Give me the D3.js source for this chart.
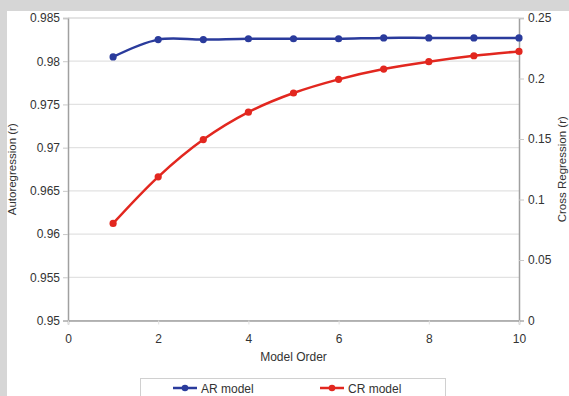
<!DOCTYPE html>
<html>
<head>
<meta charset="utf-8">
<script src="https://cdn.jsdelivr.net/npm/d3@7"></script>
<style>
  html, body { margin: 0; padding: 0; background: #d6d6d6; }
  svg { display: block; font-family: "Liberation Sans", Arial, sans-serif; }
</style>
</head>
<body>
<svg id="chart" width="569" height="396"></svg>
<script>
// Model orders on the x axis
const orders = [1, 2, 3, 4, 5, 6, 7, 8, 9, 10];
// Autoregression correlation (left axis)
const arValues = [0.9805, 0.9825, 0.9825, 0.9826, 0.9826, 0.9826, 0.9827, 0.9827, 0.9827, 0.9827];
// Cross regression correlation (right axis)
const crValues = [0.0802, 0.1187, 0.1495, 0.1722, 0.1880, 0.1993, 0.2078, 0.2139, 0.2188, 0.2224];
// Tick values
const xTicks = [0, 2, 4, 6, 8, 10];
const leftTicks = [0.95, 0.955, 0.96, 0.965, 0.97, 0.975, 0.98, 0.985];
const rightTicks = [0, 0.05, 0.1, 0.15, 0.2, 0.25];
const seriesNames = ["AR model", "CR model"];

const svg = d3.select("#chart");
const W = 569, H = 396;
const plot = { left: 68, right: 519, top: 18, bottom: 320.5 };
const blue = "#2a3b9c", red = "#e2271f";

// white panel
svg.append("rect").attr("x", 7).attr("y", 11).attr("width", W - 7).attr("height", H - 11).attr("fill", "#ffffff");

const x = d3.scaleLinear().domain([0, 10]).range([plot.left, plot.right]);
const yL = d3.scaleLinear().domain([0.95, 0.985]).range([plot.bottom, plot.top]);
const yR = d3.scaleLinear().domain([0, 0.25]).range([plot.bottom, plot.top]);

// horizontal gridlines
svg.append("g").selectAll("line").data(leftTicks).join("line")
  .attr("x1", plot.left).attr("x2", plot.right)
  .attr("y1", d => yL(d)).attr("y2", d => yL(d))
  .attr("stroke", "#e2e2e2").attr("stroke-width", 1.2);

const fmt = d => String(+d.toFixed(3));

// left axis
const gL = svg.append("g").attr("transform", `translate(${plot.left},0)`)
  .call(d3.axisLeft(yL).tickValues(leftTicks).tickFormat(fmt).tickSize(5).tickPadding(3));
// right axis
const gR = svg.append("g").attr("transform", `translate(${plot.right},0)`)
  .call(d3.axisRight(yR).tickValues(rightTicks).tickFormat(fmt).tickSize(5).tickPadding(4));
// bottom axis
const gB = svg.append("g").attr("transform", `translate(0,${plot.bottom})`)
  .call(d3.axisBottom(x).tickValues(xTicks).tickFormat(d3.format("d")).tickSize(4).tickPadding(10));

[gL, gR, gB].forEach(g => {
  g.select(".domain").attr("stroke", "#a0a0a0").attr("stroke-width", 1.5);
  g.selectAll(".tick line").attr("stroke", "#c8c8c8");
  g.selectAll(".tick text").attr("fill", "#333").attr("font-size", 12);
});
gB.selectAll(".tick line").attr("stroke", "#e0e0e0");

// top border of plot
svg.append("line").attr("x1", plot.left).attr("x2", plot.right)
  .attr("y1", plot.top).attr("y2", plot.top).attr("stroke", "#d8d8d8").attr("stroke-width", 1.2);

// axis titles
svg.append("text").attr("transform", `translate(16,${(plot.top + plot.bottom) / 2}) rotate(-90)`)
  .attr("text-anchor", "middle").attr("font-size", 11.5).attr("fill", "#333")
  .text("Autoregression (r)");
svg.append("text").attr("transform", `translate(566,${(plot.top + plot.bottom) / 2}) rotate(-90)`)
  .attr("text-anchor", "middle").attr("font-size", 11.5).attr("fill", "#333")
  .text("Cross Regression (r)");
svg.append("text").attr("x", (plot.left + plot.right) / 2).attr("y", 361)
  .attr("text-anchor", "middle").attr("font-size", 12).attr("fill", "#333")
  .text("Model Order");

// series
const series = [
  { name: seriesNames[0], vals: arValues, y: yL, color: blue },
  { name: seriesNames[1], vals: crValues, y: yR, color: red }
];
series.forEach(s => {
  const pts = orders.map((o, i) => [o, s.vals[i]]);
  const line = d3.line().x(d => x(d[0])).y(d => s.y(d[1])).curve(d3.curveCatmullRom.alpha(0.5));
  svg.append("path").datum(pts).attr("d", line)
    .attr("fill", "none").attr("stroke", s.color).attr("stroke-width", 2.5);
  svg.append("g").selectAll("circle").data(pts).join("circle")
    .attr("cx", d => x(d[0])).attr("cy", d => s.y(d[1])).attr("r", 3.6)
    .attr("fill", s.color);
});

// legend
svg.append("rect").attr("x", 140.5).attr("y", 378.5).attr("width", 305).attr("height", 30)
  .attr("fill", "#fff").attr("stroke", "#d0d0d0");
const legX = [173, 320];
series.forEach((s, i) => {
  const g = svg.append("g").attr("transform", `translate(${legX[i]},388)`);
  g.append("line").attr("x1", 0).attr("x2", 24).attr("stroke", s.color).attr("stroke-width", 2.5);
  g.append("circle").attr("cx", 12).attr("r", 3.3).attr("fill", s.color);
  g.append("text").attr("x", 28).attr("y", 4.5).attr("font-size", 12).attr("fill", "#333").text(s.name);
});
</script>
</body>
</html>
